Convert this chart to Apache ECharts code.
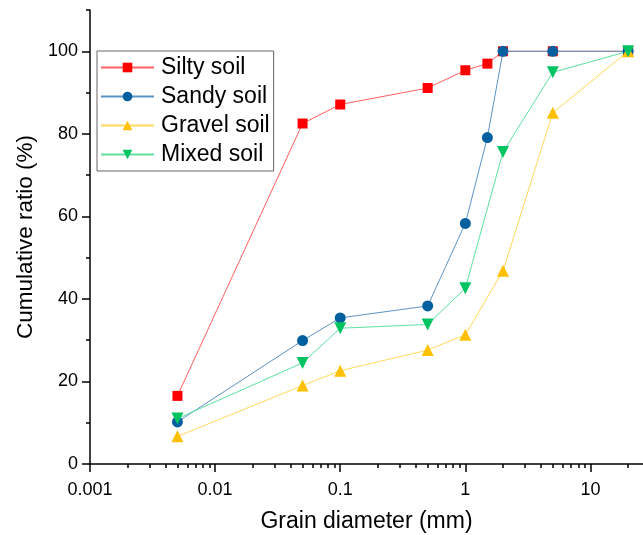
<!DOCTYPE html>
<html>
<head>
<meta charset="utf-8">
<script src="https://cdn.jsdelivr.net/npm/echarts@6/dist/echarts.min.js"></script>
<style>
  html, body { margin: 0; padding: 0; background: #fff; }
  #chart { width: 643px; height: 535px; }
</style>
</head>
<body>
<div id="chart"></div>
<script>
// 粒径 (mm) 与累计百分比
const siltyDiameter = [0.005, 0.05, 0.1, 0.5, 1, 1.5, 2, 5, 20]
const siltyRatio = [16.5, 82.5, 87.1, 91.1, 95.4, 97.0, 100, 100, 100]
const sandyDiameter = [0.005, 0.05, 0.1, 0.5, 1, 1.5, 2, 5, 20]
const sandyRatio = [10.2, 29.9, 35.4, 38.3, 58.3, 79.1, 100, 100, 100]
const gravelDiameter = [0.005, 0.05, 0.1, 0.5, 1, 2, 5, 20]
const gravelRatio = [6.7, 19.0, 22.6, 27.6, 31.3, 46.8, 85.1, 100]
const mixedDiameter = [0.005, 0.05, 0.1, 0.5, 1, 2, 5, 20]
const mixedRatio = [11.0, 24.5, 32.9, 33.8, 42.6, 75.6, 94.9, 100]

// 坐标轴刻度
const xMajorTicks = [0.001, 0.01, 0.1, 1, 10]
const xMinorTicks = [
  0.002, 0.003, 0.004, 0.005, 0.006, 0.007, 0.008, 0.009,
  0.02, 0.03, 0.04, 0.05, 0.06, 0.07, 0.08, 0.09,
  0.2, 0.3, 0.4, 0.5, 0.6, 0.7, 0.8, 0.9,
  2, 3, 4, 5, 6, 7, 8, 9, 20
]
const yMajorTicks = [0, 20, 40, 60, 80, 100]
const yMinorTicks = [10, 30, 50, 70, 90, 110]

const FONT = 'Liberation Sans, Arial, sans-serif'

const pairs = (xs, ys) => xs.map((x, i) => [x, ys[i]])

const chart = echarts.init(document.getElementById('chart'))

function makeSeries(name, xs, ys, symbol, size, markColor, lineColor, rotate) {
  return {
    name: name,
    type: 'line',
    data: pairs(xs, ys),
    symbol: symbol,
    symbolSize: size,
    symbolRotate: rotate || 0,
    showAllSymbol: true,
    clip: false,
    itemStyle: { color: markColor, borderWidth: 0 },
    lineStyle: { color: lineColor, width: 1 },
    emphasis: { disabled: true }
  }
}

const axisLineStyle = { color: '#000', width: 1.5 }

const option = {
  backgroundColor: '#fff',
  animation: false,
  // 固定绘图区位置，不让轴名挤压网格
  grid: { left: 90, right: 0, top: 10, bottom: 71, outerBoundsMode: 'none', containLabel: false },
  legend: {
    orient: 'vertical',
    left: 97,
    top: 51,
    padding: [5, 4, 5, 3],
    itemGap: 6,
    itemWidth: 53,
    itemHeight: 12,
    borderColor: '#666',
    borderWidth: 1,
    textStyle: { fontFamily: FONT, fontSize: 23, color: '#000', padding: [0, 0, 0, 2] },
    data: ['Silty soil', 'Sandy soil', 'Gravel soil', 'Mixed soil']
  },
  xAxis: [
    {
      type: 'log',
      logBase: 10,
      min: 0.001,
      max: 26.3,
      position: 'bottom',
      name: 'Grain diameter (mm)',
      nameLocation: 'middle',
      nameGap: 46,
      nameTextStyle: { fontFamily: FONT, fontSize: 23, color: '#000' },
      axisLine: { lineStyle: axisLineStyle },
      axisTick: { customValues: xMajorTicks, length: 8, lineStyle: { color: '#000', width: 1.5 } },
      axisLabel: {
        customValues: xMajorTicks,
        margin: 17,
        fontFamily: FONT,
        fontSize: 18,
        color: '#000',
        formatter: v => String(v)
      },
      splitLine: { show: false },
      minorTick: { show: false }
    },
    {
      type: 'log',
      logBase: 10,
      min: 0.001,
      max: 26.3,
      position: 'bottom',
      axisLine: { show: false },
      axisTick: { customValues: xMinorTicks, length: 4, lineStyle: { color: '#000', width: 1.5 } },
      axisLabel: { show: false },
      splitLine: { show: false }
    }
  ],
  yAxis: [
    {
      type: 'value',
      min: 0,
      max: 110,
      position: 'left',
      name: 'Cumulative ratio (%)',
      nameLocation: 'middle',
      nameGap: 52,
      nameTextStyle: { fontFamily: FONT, fontSize: 22.5, color: '#000' },
      axisLine: { show: true, lineStyle: axisLineStyle },
      axisTick: { show: true, customValues: yMajorTicks, length: 8, lineStyle: { color: '#000', width: 1.5 } },
      axisLabel: {
        customValues: yMajorTicks,
        margin: 12,
        fontFamily: FONT,
        fontSize: 18,
        color: '#000'
      },
      splitLine: { show: false }
    },
    {
      type: 'value',
      min: 0,
      max: 110,
      position: 'left',
      axisLine: { show: false },
      axisTick: { show: true, customValues: yMinorTicks, length: 4, lineStyle: { color: '#000', width: 1.5 } },
      axisLabel: { show: false },
      splitLine: { show: false }
    }
  ],
  series: [
    makeSeries('Silty soil', siltyDiameter, siltyRatio, 'rect', 10, '#ff0000', '#ff6060'),
    makeSeries('Sandy soil', sandyDiameter, sandyRatio, 'circle', 11, '#005f9e', '#5b93c8'),
    makeSeries('Gravel soil', gravelDiameter, gravelRatio, 'triangle', 12, '#ffc000', '#ffd95a'),
    makeSeries('Mixed soil', mixedDiameter, mixedRatio, 'triangle', 12, '#00c462', '#5ce0a0', 180)
  ]
}

chart.setOption(option)
</script>
</body>
</html>
